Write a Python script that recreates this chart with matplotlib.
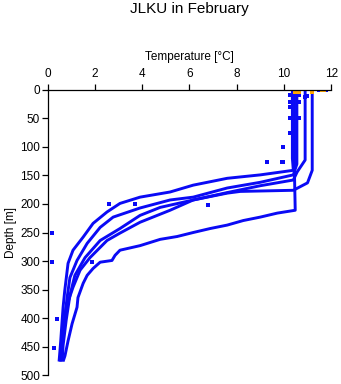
import numpy as np
import matplotlib
matplotlib.use("Agg")
from matplotlib import pyplot as plt

# temperature [degC] / depth [m] pairs, one list per cast
temp_a = [10.45, 10.45, 10.48, 9.72, 9.0, 8.28, 7.6, 6.88, 6.16, 5.48, 4.76, 3.91, 3.06, 2.85,
          2.72, 2.22, 1.92, 1.67, 1.5, 1.28, 1.24, 1.03, 0.86, 0.73, 0.65]
depth_a = [2, 150, 211, 216, 223, 229, 237, 243, 250, 257, 262, 273, 281, 290,
           299, 302, 313, 325, 339, 364, 381, 410, 440, 466, 476]

temp_b = [10.36, 10.36, 10.4, 9.0, 7.6, 6.16, 5.18, 3.91, 3.06, 2.51, 1.92, 1.5, 1.07, 0.86,
          0.72, 0.65, 0.6, 0.55, 0.5, 0.48]
depth_b = [2, 120, 141, 149, 155, 167, 179, 188, 199, 214, 234, 258, 281, 304,
           352, 381, 410, 440, 466, 476]

temp_c = [10.55, 10.55, 10.4, 9.0, 7.6, 6.16, 5.18, 3.91, 2.77, 2.22, 1.67, 1.24, 0.94, 0.82,
          0.69, 0.61, 0.56]
depth_c = [2, 130, 149, 162, 172, 188, 193, 207, 223, 241, 269, 299, 329, 364,
           410, 448, 476]

temp_e = [10.9, 10.9, 10.56, 10.4, 9.0, 7.6, 6.16, 5.18, 3.91, 3.06, 2.51, 1.79, 1.37, 1.07,
          0.78, 0.65, 0.56, 0.52]
depth_e = [2, 123, 144, 158, 168, 180, 193, 211, 232, 251, 264, 294, 316, 346,
           381, 422, 457, 476]

temp_f = [11.2, 11.2, 11.0, 10.4, 8.15, 7.6, 6.16, 4.76, 3.91, 3.06, 2.22, 1.58, 1.15, 0.94,
          0.78, 0.65, 0.61]
depth_f = [2, 141, 163, 176, 178, 181, 193, 206, 220, 243, 264, 294, 325, 360,
           404, 448, 476]

# isolated readings
stray_t = [0.18, 0.18, 0.39, 0.27, 1.88, 2.6, 3.7, 6.8, 9.3, 9.97, 9.97, 9.93,
           10.27, 10.27, 10.27, 10.27, 10.27, 10.65, 10.65, 10.65, 10.9, 11.5, 11.8, 11.0]
stray_d = [251, 302, 401, 452, 302, 200, 200, 201, 126, 126, 100, 126,
           9, 21, 30, 49, 76, 9, 21, 49, 12, 1, 0, 10]

surface_t = [10.45, 10.65, 11.2, 11.6, 11.7]
surface_d = [3, 3, 3, 1, 1]

casts = [(temp_a, depth_a), (temp_b, depth_b), (temp_c, depth_c),
         (temp_e, depth_e), (temp_f, depth_f)]

plt.rcParams["font.family"] = ["Liberation Sans", "DejaVu Sans"]
blue = "#0a0af5"

fig = plt.figure(figsize=(3.41, 3.84), dpi=100)
ax = fig.add_axes([0.14, 0.023, 0.831, 0.743])

for t, d in casts:
    ax.plot(t, d, color=blue, lw=2.1, solid_capstyle="butt")
ax.plot(stray_t, stray_d, ls="none", marker="s", ms=2.6, color=blue, mew=0)
ax.plot(surface_t, surface_d, ls="none", marker="s", ms=2.6, color="#ffa500", mew=0)

ax.set_xlim(0, 12)
ax.set_ylim(500, 0)
ax.set_xticks(np.arange(0, 13, 2))
ax.set_yticks(np.arange(0, 501, 50))
ax.xaxis.tick_top()
ax.xaxis.set_label_position("top")
ax.spines["bottom"].set_visible(False)
ax.spines["right"].set_visible(False)
ax.spines["top"].set_linewidth(0.9)
ax.spines["left"].set_linewidth(0.9)
ax.tick_params(axis="x", length=4, width=0.9, pad=3, labelsize=8.5)
ax.tick_params(axis="y", length=4, width=0.9, pad=1.5, labelsize=8.5)
ax.set_xlabel("Temperature [°C]", fontsize=8.5, labelpad=6)
ax.set_ylabel("Depth [m]", fontsize=8.5, labelpad=2)

fig.text(0.555, 1 - 9 / 384, "JLKU in February", ha="center", va="center", fontsize=11)

plt.savefig("out.png", dpi=100)
